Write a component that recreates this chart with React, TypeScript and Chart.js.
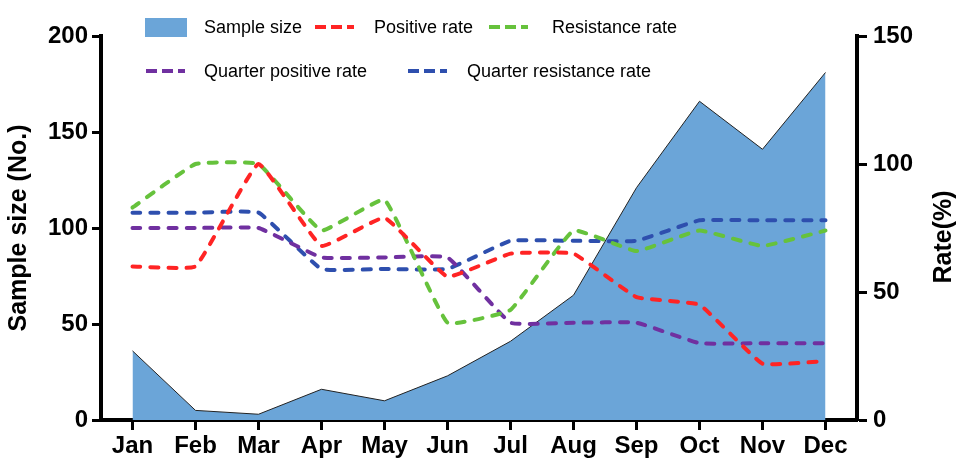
import React, { useEffect, useRef } from "react";
import { Chart, registerables } from "chart.js";

Chart.register(...registerables);

const months = ["Jan", "Feb", "Mar", "Apr", "May", "Jun", "Jul", "Aug", "Sep", "Oct", "Nov", "Dec"];
const sampleSize = [36, 5, 3, 16, 10, 23, 41, 65, 121, 166, 141, 181];
const positiveRate = [60, 60, 100, 68, 79, 56, 65, 65, 48, 45, 22, 23];
const resistanceRate = [83, 100, 100, 74, 86, 38, 43, 74, 66, 74, 68, 74];
const quarterPositiveRate = [75, 75, 75, 63.5, 63.5, 63.5, 38, 38, 38, 30, 30, 30];
const quarterResistanceRate = [81, 81, 81, 59, 59, 59, 70, 70, 70, 78, 78, 78];
const leftTicks = [0, 50, 100, 150, 200];
const rightTicks = [0, 50, 100, 150];

const AREA = "#6ba5d8";
const RED = "#ff2424";
const GREEN = "#66c23c";
const PURPLE = "#7030a0";
const BLUE = "#2e4fae";
const FONT = '"Liberation Sans", Arial, sans-serif';

const rightTitle = {
  id: "rightTitle",
  afterDraw(chart: any) {
    const ctx = chart.ctx;
    const s = chart.scales.y1;
    ctx.save();
    ctx.translate(s.right - 13, (chart.chartArea.top + chart.chartArea.bottom) / 2 + 9);
    ctx.rotate(-Math.PI / 2);
    ctx.font = `bold 25px ${FONT}`;
    ctx.textAlign = "center";
    ctx.textBaseline = "middle";
    ctx.fillStyle = "#000";
    ctx.fillText("Rate(%)", 0, 0);
    ctx.restore();
  },
};

function rateLine(label: string, data: number[], color: string) {
  return {
    label,
    data,
    yAxisID: "y1",
    borderColor: color,
    backgroundColor: color,
    borderWidth: 4,
    borderDash: [8, 10],
    borderCapStyle: "round",
    borderJoinStyle: "round",
    pointRadius: 0,
    tension: 0.1,
    fill: false,
    order: 1,
  };
}

function Dash({ color }: { color: string }) {
  return (
    <svg width={39} height={6} style={{ display: "block" }}>
      <line x1={0} y1={3} x2={39} y2={3} stroke={color} strokeWidth={4} strokeDasharray="11 5" />
    </svg>
  );
}

const textStyle: React.CSSProperties = {
  position: "absolute",
  fontFamily: FONT,
  fontSize: 18,
  color: "#000",
  lineHeight: "20px",
  whiteSpace: "nowrap",
};

export default function App() {
  const ref = useRef<HTMLCanvasElement | null>(null);

  useEffect(() => {
    document.body.style.margin = "0";
    const canvas = ref.current;
    if (!canvas) return;
    const chart = new Chart(canvas, {
      type: "line",
      data: {
        labels: months,
        datasets: [
          rateLine("Positive rate", positiveRate, RED),
          rateLine("Resistance rate", resistanceRate, GREEN),
          rateLine("Quarter positive rate", quarterPositiveRate, PURPLE),
          rateLine("Quarter resistance rate", quarterResistanceRate, BLUE),
          {
            label: "Sample size",
            data: sampleSize,
            yAxisID: "y",
            borderColor: "#222",
            borderWidth: 1,
            backgroundColor: AREA,
            fill: "origin",
            pointRadius: 0,
            tension: 0,
            order: 2,
          },
        ] as any,
      },
      options: {
        responsive: false,
        devicePixelRatio: 1,
        animation: false,
        layout: { padding: { top: 36, left: 0, right: 0, bottom: 0 } },
        plugins: { legend: { display: false }, tooltip: { enabled: false } },
        scales: {
          x: {
            type: "category",
            offset: true,
            afterFit: (s: any) => {
              s.height = 39;
            },
            grid: {
              drawOnChartArea: false,
              drawTicks: true,
              tickLength: 10,
              tickWidth: 3,
              tickColor: "#000",
              offset: false,
            },
            border: { display: true, color: "#000", width: 4 },
            ticks: {
              color: "#000",
              padding: 2,
              maxRotation: 0,
              autoSkip: false,
              font: { family: FONT, size: 24, weight: "bold" },
            },
          },
          y: {
            type: "linear",
            position: "left",
            min: 0,
            max: 200,
            afterFit: (s: any) => {
              s.width = 101;
            },
            afterBuildTicks: (s: any) => {
              s.ticks = leftTicks.map((v) => ({ value: v }));
            },
            grid: {
              drawOnChartArea: false,
              drawTicks: true,
              tickLength: 9,
              tickWidth: 3,
              tickColor: "#000",
            },
            border: { display: true, color: "#000", width: 4 },
            ticks: {
              color: "#000",
              padding: 4,
              font: { family: FONT, size: 24, weight: "bold" },
            },
            title: {
              display: true,
              text: "Sample size (No.)",
              color: "#000",
              padding: { top: 4, bottom: 0 },
              font: { family: FONT, size: 25, weight: "bold" },
            },
          },
          y1: {
            type: "linear",
            position: "right",
            min: 0,
            max: 150,
            afterFit: (s: any) => {
              s.width = 100;
            },
            afterBuildTicks: (s: any) => {
              s.ticks = rightTicks.map((v) => ({ value: v }));
            },
            grid: {
              drawOnChartArea: false,
              drawTicks: true,
              tickLength: 10,
              tickWidth: 3,
              tickColor: "#000",
            },
            border: { display: true, color: "#000", width: 4 },
            ticks: {
              color: "#000",
              padding: 6,
              font: { family: FONT, size: 24, weight: "bold" },
            },
          },
        },
      } as any,
      plugins: [rightTitle],
    });
    return () => chart.destroy();
  }, []);

  return (
    <div style={{ position: "relative", width: 957, height: 459, background: "#fff" }}>
      <canvas ref={ref} width={957} height={459} style={{ display: "block" }} />
      <div style={{ position: "absolute", left: 145, top: 18, width: 42, height: 19, background: AREA }} />
      <div style={{ ...textStyle, left: 204, top: 17 }}>Sample size</div>
      <div style={{ position: "absolute", left: 315, top: 24 }}><Dash color={RED} /></div>
      <div style={{ ...textStyle, left: 374, top: 17 }}>Positive rate</div>
      <div style={{ position: "absolute", left: 489, top: 24 }}><Dash color={GREEN} /></div>
      <div style={{ ...textStyle, left: 552, top: 17 }}>Resistance rate</div>
      <div style={{ position: "absolute", left: 146, top: 68 }}><Dash color={PURPLE} /></div>
      <div style={{ ...textStyle, left: 204, top: 61 }}>Quarter positive rate</div>
      <div style={{ position: "absolute", left: 408, top: 68 }}><Dash color={BLUE} /></div>
      <div style={{ ...textStyle, left: 467, top: 61 }}>Quarter resistance rate</div>
    </div>
  );
}
